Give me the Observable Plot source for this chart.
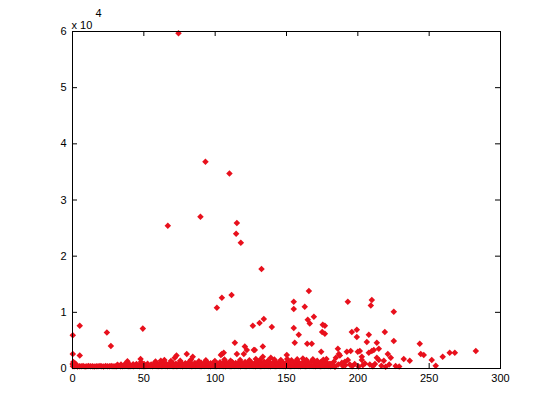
<!DOCTYPE html>
<html><head><meta charset="utf-8">
<script src="https://cdn.jsdelivr.net/npm/d3@7"></script>
<script src="https://cdn.jsdelivr.net/npm/@observablehq/plot@0.6"></script>
<style>html,body{margin:0;padding:0;background:#fff}#chart{width:553px;height:414px}</style>
</head><body><div id="chart"></div>
<script>
const xTicks = [0, 50, 100, 150, 200, 250, 300];
const yTicks = [0, 10000, 20000, 30000, 40000, 50000, 60000];
const yTickLabels = ["0", "1", "2", "3", "4", "5", "6"];
const exponentBase = "x 10";
const exponentPower = "4";

// isolated points [x, y]
const outliers = [
  [74.3,59700],[93.2,36800],[110,34700],[89.7,27000],[66.8,25400],[115.2,25900],[114.7,24000],[118,22400],
  [132.5,17700],[111.5,13100],[104.7,12600],[101.2,10800],[126.4,7600],[131.1,8100],[134.1,8800],[139.7,7400],
  [155.1,11900],[155.1,10600],[162.8,11000],[165.7,13800],[155.1,7200],[164.9,8700],[166.3,8000],[169.2,9200],
  [175.4,7800],[176.9,7600],[175.0,6500],[176.9,6200],[193,11900],[209.8,12200],[209.1,11200],[225.2,10100],
  [158.6,6000],[155.8,4600],[164.5,4400],[167.7,4400],[195.8,6500],[199.3,6900],[199.3,5600],[207.7,6000],
  [206.3,4700],[213.3,4600],[218.9,6500],[225.2,4900],[214.7,3500],[243.4,4400],[133.4,3900],[127.8,3300],
  [174.3,3000],[244.1,2600],[246.2,2400],[251.8,1500],[254.6,500],[259.5,2100],[264.4,2800],[268,2800],
  [282.7,3100],[232.2,1700],[236.4,1400],[221,2600],[223.1,1900],[218.2,1400],[213.3,1900],[214.7,1500],
  [208.4,700],[207.7,2800],[209.8,3100],[211.2,3300],[202.8,2100],[202.8,1500],[201.4,3100],[200,3000],
  [194.4,700],[192.3,3000],[195,3100],[193,1500],[190.9,1200],[188.8,1000],[186,3500],[186.7,2600],
  [187.4,2300],[184.6,1900],[183.2,1200],[181,800],[0.2,5900],[5.1,7600],[0.2,2600],[5.1,2300],
  [24.1,6400],[26.9,4000],[49.3,7100],[113.8,4600],[120.8,3900],[122.2,3300],[120.1,2600],[115.2,2600],
  [127.1,3300],[104.7,2600],[106,2800],[80.1,2600],[71.7,1900],[84.3,2100],[61.9,1400],[133.4,2100],
  [139,1900],[150.2,2400],[104,2400],[72.9,2300]
];

// dense low band along the bottom [x, y]
const bandLow = [
  [0.3,420],[1.2,380],[2.4,450],[3.5,360],[4.9,410],[6.1,390],[7.4,430],[8.8,370],[10.1,400],[11.3,440],
  [12.7,380],[14.0,410],[15.2,360],[16.6,420],[17.9,390],[19.3,450],[20.5,400],[21.8,370],[23.2,430],[24.6,410],
  [25.9,380],[27.1,460],[28.4,400],[29.8,420],[31.0,390],[32.4,470],[33.7,410],[35.1,380],[36.3,440],[37.6,500],
  [39.0,420],[40.3,390],[41.7,450],[42.9,410],[44.2,480],[45.6,430],[46.9,400],[48.1,460],[49.5,420],[50.8,390],
  [52.2,450],[53.4,500],[54.7,430],[56.1,410],[57.4,470],[58.6,440],[60.0,400],[61.3,460],[62.7,420],[63.9,480],
  [65.2,430],[66.6,400],[67.9,450],[69.1,500],[70.5,420],[71.8,460],[73.2,410],[74.4,480],[75.7,440],[77.1,400],
  [78.4,470],[79.6,430],[81.0,490],[82.3,450],[83.7,410],[84.9,470],[86.2,430],[87.6,500],[88.9,440],[90.1,410],
  [91.5,470],[92.8,430],[94.2,490],[95.4,450],[96.7,410],[98.1,480],[99.4,440],[100.6,400],[102.0,470],[103.3,430],
  [104.7,500],[105.9,450],[107.2,410],[108.6,480],[109.9,440],[111.1,400],[112.5,470],[113.8,430],[115.2,490],[116.4,450],
  [117.7,410],[119.1,480],[120.4,440],[121.6,400],[123.0,470],[124.3,430],[125.7,500],[126.9,450],[128.2,410],[129.6,480],
  [130.9,440],[132.1,400],[133.5,470],[134.8,430],[136.2,490],[137.4,450],[138.7,410],[140.1,480],[141.4,440],[142.6,400],
  [144.0,470],[145.3,430],[146.7,500],[147.9,450],[149.2,410],[150.6,480],[151.9,440],[153.1,400],[154.5,470],[155.8,430],
  [157.2,490],[158.4,450],[159.7,410],[161.1,480],[162.4,440],[163.6,400],[165.0,470],[166.3,430],[167.7,500],[168.9,450],
  [170.2,410],[171.6,480],[172.9,440],[174.1,400],[175.5,470],[176.8,430],[178.2,490],[179.4,450],[181.0,420]
];
const bandMid = [
  [0.1,800],[0.6,1150],[1.0,650],[1.8,900],[2.6,700],
  [31.5,650],[34.0,720],[36.8,780],[38.2,950],[40.1,700],[42.5,760],[44.8,820],[47.3,700],[48.0,1150],[50.2,780],
  [52.6,850],[55.1,720],[57.3,880],[59.6,800],[61.7,900],[63.8,1050],[65.9,820],[68.2,880],[70.4,950],[72.5,830],
  [74.9,1000],[76.8,870],[79.1,920],[81.3,1050],[83.4,900],[85.8,980],[87.9,850],[90.2,1000],[92.3,920],[94.5,1080],
  [96.8,950],[98.9,1020],[101.1,880],[103.4,1100],[105.5,960],[107.8,1050],[109.9,900],[112.1,1120],[114.4,980],[116.6,1060],
  [118.7,920],[121.0,1150],[123.2,1000],[125.4,1080],[127.6,940],[129.9,1120],[132.0,1000],[134.3,1180],[136.5,1050],[138.7,960],
  [140.9,1130],[143.2,1010],[145.4,1200],[147.6,1060],[149.8,980],[152.0,1150],[154.3,1030],[156.5,1220],[158.7,1080],[160.9,990],
  [163.2,1160],[165.4,1040],[167.6,1250],[169.8,1100],[172.0,980],[174.3,1180],[176.5,1060],[178.7,950],[180.2,800]
];
const bandHigh = [
  [38.5,1300],[47.7,1700],[58.2,1250],[64.4,1500],[69.0,1350],[75.5,1400],[83.0,1550],[88.6,1300],[93.5,1450],[99.8,1350],
  [106.5,1600],[110.8,1400],[117.5,1500],[124.0,1450],[128.5,1700],[131.5,1550],[137.0,1400],[141.5,1600],[146.0,1500],[150.5,1700],
  [153.5,1450],[157.5,1650],[161.5,1800],[164.0,1500],[168.5,1650],[171.5,1400],[175.8,1550],[178.0,1700]
];
const bandTail = [
  [182.5,500],[184.0,300],[186.3,700],[189.5,450],[191.2,600],[196.0,400],[197.8,800],[200.5,350],[203.5,600],
  [205.0,900],[210.5,400],[212.0,800],[216.5,500],[219.5,300],[222.0,700],[226.5,450],[229.0,350]
];

const points = [...bandLow, ...bandMid, ...bandHigh, ...bandTail, ...outliers].map(([x, y]) => ({x, y}));
const yFormat = (d) => yTickLabels[yTicks.indexOf(d)];

const W = 553, H = 414, ML = 72, MR = 53, MT = 31, MB = 46, TICK = 5;
const innerW = W - ML - MR, innerH = H - MT - MB;

const chart = Plot.plot({
  width: W, height: H,
  marginLeft: ML, marginRight: MR, marginTop: MT, marginBottom: MB,
  style: {fontFamily: "'Liberation Sans', Arial, sans-serif", fontSize: "11px", color: "#000", background: "#fff"},
  x: {domain: [0, 300]},
  y: {domain: [0, 60000]},
  marks: [
    Plot.dot(points, {x: "x", y: "y", symbol: "square", rotate: 45, r: 2.6, fill: "#e8101c", stroke: null}),
    Plot.frame({stroke: "#000", strokeWidth: 1}),
    Plot.axisX(xTicks, {anchor: "bottom", tickSize: 0, tickPadding: 6, label: null}),
    Plot.axisY(yTicks, {anchor: "left", tickSize: 0, tickPadding: 6, tickFormat: yFormat, label: null}),
    Plot.tickX(xTicks, {x: (d) => d, stroke: "#000", insetTop: innerH - TICK}),
    Plot.tickX(xTicks, {x: (d) => d, stroke: "#000", insetBottom: innerH - TICK}),
    Plot.tickY(yTicks, {y: (d) => d, stroke: "#000", insetRight: innerW - TICK}),
    Plot.tickY(yTicks, {y: (d) => d, stroke: "#000", insetLeft: innerW - TICK}),
    Plot.text([exponentBase], {frameAnchor: "top-left", text: (d) => d, textAnchor: "start", lineAnchor: "bottom", dx: -1, dy: -3, fontSize: 11}),
    Plot.text([exponentPower], {frameAnchor: "top-left", text: (d) => d, textAnchor: "start", lineAnchor: "bottom", dx: 23, dy: -15, fontSize: 11})
  ]
});
document.getElementById("chart").appendChild(chart);
</script>
</body></html>
